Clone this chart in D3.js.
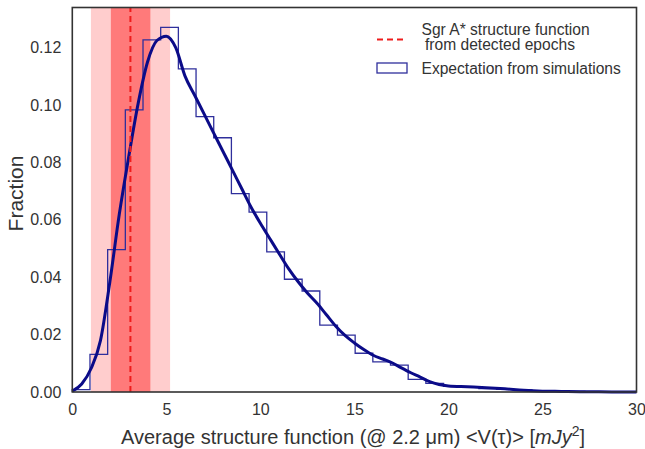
<!DOCTYPE html>
<html>
<head>
<meta charset="utf-8">
<script src="https://cdn.jsdelivr.net/npm/d3@7"></script>
<style>
  body { margin: 0; background: #fff; }
  svg { display: block; font-family: Arial, "Liberation Sans", sans-serif; }
</style>
</head>
<body>
<div id="chart"></div>
<script>
// histogram of simulated structure functions (bin edges + fraction per bin)
const binEdges = [0, 0.94, 1.88, 2.82, 3.76, 4.70, 5.64, 6.58, 7.52, 8.46, 9.40,
  10.34, 11.28, 12.22, 13.16, 14.10, 15.04, 15.98, 16.92, 17.86, 18.80,
  19.74, 20.68, 21.62, 22.56, 23.50, 24.44, 25.38, 26.32, 27.26, 28.20];
const binFraction = [0.0008, 0.0131, 0.0496, 0.0983, 0.1227, 0.1271, 0.1126, 0.0960,
  0.0886, 0.0691, 0.0627, 0.0488, 0.0393, 0.0352, 0.0233, 0.0198, 0.0135,
  0.0105, 0.0094, 0.0044, 0.0030, 0.0020, 0.0016, 0.0012, 0.0009, 0.0007,
  0.0004, 0.0003, 0.0002, 0.0001];

// smoothed density curve
const kdeX = [0, 0.5, 1.0, 1.5, 2.0, 2.5, 3.0, 3.5, 4.0, 4.5, 5.0, 5.5, 6.0, 6.5,
  7.0, 7.5, 8.0, 8.5, 9.0, 9.5, 10, 10.5, 11, 11.5, 12, 12.5, 13, 13.5, 14,
  14.5, 15, 15.5, 16, 16.5, 17, 17.5, 18, 18.5, 19, 19.5, 20, 21, 22, 23, 24,
  25, 26, 27, 28, 29, 30];
const kdeY = [0.0003, 0.0028, 0.0082, 0.0180, 0.0385, 0.0620, 0.0820, 0.1005,
  0.1150, 0.1225, 0.1240, 0.1200, 0.1100, 0.1035, 0.0970, 0.0905, 0.0840,
  0.0775, 0.0710, 0.0645, 0.0588, 0.0535, 0.0482, 0.0430, 0.0385, 0.0345,
  0.0310, 0.0270, 0.0230, 0.0197, 0.0171, 0.0148, 0.0128, 0.0115, 0.0102,
  0.0084, 0.0067, 0.0052, 0.0036, 0.0026, 0.0021, 0.0018, 0.0015, 0.0011,
  0.0006, 0.0003, 0.0002, 0.0001, 0.00005, 0, 0];

// Sgr A* measurement: value, 1 sigma and 2 sigma ranges
const sgrValue = 3.09;
const sgrRange1 = [2.05, 4.15];
const sgrRange2 = [0.99, 5.2];

const xTicks = [0, 5, 10, 15, 20, 25, 30];
const yTicks = [0, 0.02, 0.04, 0.06, 0.08, 0.10, 0.12];

const width = 645, height = 449;
const margin = {left: 72.3, right: 8.5, top: 7.5, bottom: 57};

const svg = d3.select("#chart").append("svg")
  .attr("width", width).attr("height", height);

const x = d3.scaleLinear().domain([0, 30]).range([margin.left, width - margin.right]);
const y = d3.scaleLinear().domain([0, 0.134]).range([height - margin.bottom, margin.top]);

const histColor = "#2f2f9c";
const lineColor = "#0b0b88";
const textColor = "#333";

// shaded ranges
svg.append("rect")
  .attr("x", x(sgrRange2[0])).attr("width", x(sgrRange2[1]) - x(sgrRange2[0]))
  .attr("y", y(0.134)).attr("height", y(0) - y(0.134))
  .attr("fill", "#ffcdcd");
svg.append("rect")
  .attr("x", x(sgrRange1[0])).attr("width", x(sgrRange1[1]) - x(sgrRange1[0]))
  .attr("y", y(0.134)).attr("height", y(0) - y(0.134))
  .attr("fill", "#ff7a7a");

// histogram outline as steps
const steps = [[binEdges[0], 0]];
binFraction.forEach((f, i) => {
  steps.push([binEdges[i], f]);
  steps.push([binEdges[i + 1], f]);
});
steps.push([binEdges[binEdges.length - 1], 0]);
svg.append("path")
  .datum(steps)
  .attr("d", d3.line().x(d => x(d[0])).y(d => y(d[1])))
  .attr("fill", "none")
  .attr("stroke", histColor)
  .attr("stroke-width", 1.3);

// density curve
svg.append("path")
  .datum(kdeX.map((v, i) => [v, kdeY[i]]))
  .attr("d", d3.line().curve(d3.curveMonotoneX).x(d => x(d[0])).y(d => y(d[1])))
  .attr("fill", "none")
  .attr("stroke", lineColor)
  .attr("stroke-width", 3);

// measured value
svg.append("line")
  .attr("x1", x(sgrValue)).attr("x2", x(sgrValue))
  .attr("y1", y(0)).attr("y2", y(0.134))
  .attr("stroke", "#ee1c1c")
  .attr("stroke-width", 2)
  .attr("stroke-dasharray", "6,4");

// frame
svg.append("rect")
  .attr("x", x(0)).attr("y", y(0.134))
  .attr("width", x(30) - x(0)).attr("height", y(0) - y(0.134))
  .attr("fill", "none").attr("stroke", "#333").attr("stroke-width", 1.6);

// axes (labels only, no tick marks)
const xAxis = svg.append("g")
  .attr("transform", `translate(0,${y(0)})`)
  .call(d3.axisBottom(x).tickValues(xTicks).tickSize(0).tickPadding(12).tickFormat(d3.format("d")));
const yAxis = svg.append("g")
  .attr("transform", `translate(${x(0)},0)`)
  .call(d3.axisLeft(y).tickValues(yTicks).tickSize(0).tickPadding(11).tickFormat(d3.format(".2f")));
[xAxis, yAxis].forEach(g => {
  g.select(".domain").remove();
  g.selectAll("text").attr("font-size", 16).attr("fill", textColor)
    .attr("font-family", "Arial, 'Liberation Sans', sans-serif");
});

// axis titles
const xl = svg.append("text")
  .attr("x", 353).attr("y", 444)
  .attr("text-anchor", "middle")
  .attr("font-size", 20).attr("fill", textColor);
xl.append("tspan").text("Average structure function (@ 2.2 μm) <V(τ)> [");
xl.append("tspan").attr("font-style", "italic").text("mJy");
xl.append("tspan").attr("font-size", 14).attr("dy", -8).text("2");
xl.append("tspan").attr("dy", 8).text("]");

svg.append("text")
  .attr("transform", "translate(22.5,193.5) rotate(-90)")
  .attr("text-anchor", "middle")
  .attr("font-size", 21).attr("fill", textColor)
  .text("Fraction");

// legend
const legend = svg.append("g").attr("font-size", 15.6).attr("fill", textColor);
legend.append("line")
  .attr("x1", 377).attr("x2", 407).attr("y1", 39.5).attr("y2", 39.5)
  .attr("stroke", "#ee1c1c").attr("stroke-width", 2).attr("stroke-dasharray", "6,4");
legend.append("text").attr("x", 421.5).attr("y", 35).text("Sgr A* structure function");
legend.append("text").attr("x", 425).attr("y", 50).text("from detected epochs");
legend.append("rect")
  .attr("x", 377).attr("y", 63).attr("width", 30).attr("height", 10)
  .attr("fill", "none").attr("stroke", histColor).attr("stroke-width", 1.3);
legend.append("text").attr("x", 421.5).attr("y", 73.5).text("Expectation from simulations");
</script>
</body>
</html>
